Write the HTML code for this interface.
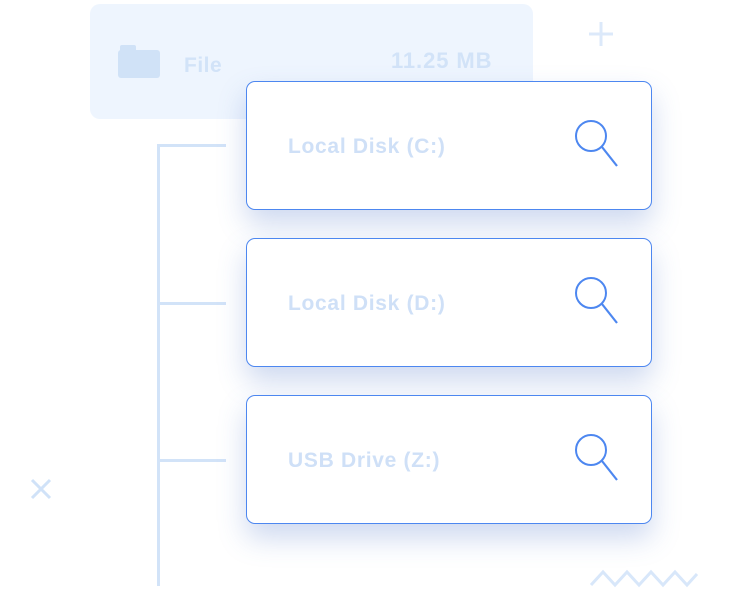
<!DOCTYPE html>
<html><head><meta charset="utf-8"><style>
html,body{margin:0;padding:0;width:730px;height:590px;background:#fff;overflow:hidden;position:relative;font-family:"Liberation Sans",sans-serif;}
.bg{position:absolute;left:90px;top:4px;width:443px;height:115px;background:#eef5fe;border-radius:10px;}
.card{position:absolute;left:246px;width:404px;height:127px;background:#fff;border:1.5px solid #4d87f0;border-radius:9px;box-shadow:0 14px 28px rgba(80,120,200,0.28);}
.card span{position:absolute;left:41px;top:53px;font-size:21px;font-weight:bold;color:#cfe0f7;letter-spacing:0.7px;}
.card svg{position:absolute;left:320px;top:35px;}
.l{position:absolute;background:#d2e3f8;}
.t{position:absolute;font-weight:bold;color:#d2e3f8;font-size:21px;}
</style></head><body>
<div class="bg"></div>
<div style="position:absolute;left:118px;top:50px;width:42px;height:28px;background:#d0e2f7;border-radius:3px;"></div>
<div style="position:absolute;left:120px;top:45px;width:16px;height:8px;background:#d0e2f7;border-radius:2px 2px 0 0;"></div>
<div class="t" style="left:184px;top:54px;letter-spacing:0.5px;">File</div>
<div class="t" style="left:391px;top:48px;font-size:22px;letter-spacing:0.9px;">11.25 MB</div>
<svg style="position:absolute;left:588px;top:21px" width="26" height="26"><path d="M13 1V25M1 13H25" stroke="#dce9fa" stroke-width="3"/></svg>
<svg style="position:absolute;left:30px;top:478px" width="22" height="22"><path d="M2 2L20 20M20 2L2 20" stroke="#d0e2f8" stroke-width="3"/></svg>
<svg style="position:absolute;left:588px;top:566px" width="114" height="24"><path d="M3 19L15 6L27 19L39 6L51 19L63 6L75 19L87 6L99 19L109 8" fill="none" stroke="#d8e7fa" stroke-width="3"/></svg>
<div class="l" style="left:157px;top:144px;width:3px;height:442px;"></div>
<div class="l" style="left:157px;top:144px;width:69px;height:3px;"></div>
<div class="l" style="left:157px;top:302px;width:69px;height:3px;"></div>
<div class="l" style="left:157px;top:459px;width:69px;height:3px;"></div>
<div class="card" style="top:81px;"><span>Local Disk (C:)</span><svg width="60" height="60"><circle cx="24" cy="19" r="15" fill="none" stroke="#4d87f0" stroke-width="2"/><path d="M35 30L50 49" stroke="#4d87f0" stroke-width="2.2"/></svg></div>
<div class="card" style="top:238px;"><span>Local Disk (D:)</span><svg width="60" height="60"><circle cx="24" cy="19" r="15" fill="none" stroke="#4d87f0" stroke-width="2"/><path d="M35 30L50 49" stroke="#4d87f0" stroke-width="2.2"/></svg></div>
<div class="card" style="top:395px;"><span>USB Drive (Z:)</span><svg width="60" height="60"><circle cx="24" cy="19" r="15" fill="none" stroke="#4d87f0" stroke-width="2"/><path d="M35 30L50 49" stroke="#4d87f0" stroke-width="2.2"/></svg></div>
</body></html>
